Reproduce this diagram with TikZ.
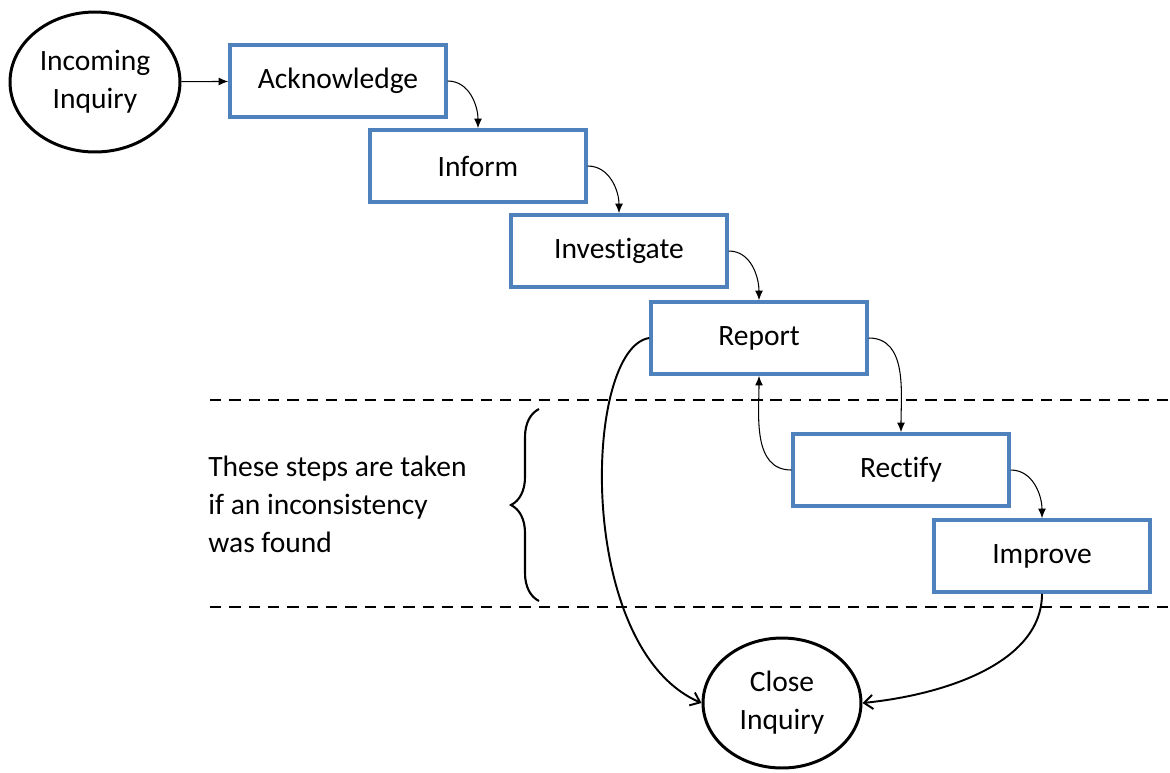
\documentclass[tikz,border=0pt]{standalone}
\usepackage{fontspec}
\setmainfont{Carlito}[Ligatures=NoCommon]
\usetikzlibrary{shapes.geometric,arrows.meta,decorations.pathreplacing}
\definecolor{boxblue}{RGB}{79,129,189}
\begin{document}
\begin{tikzpicture}[x=0.02cm,y=-0.02cm]
\tikzstyle{every node}=[font=\fontsize{16.8}{21.6}\selectfont]
\tikzstyle{stepbox}=[draw=boxblue, line width=2pt, minimum width=4.32cm, minimum height=1.44cm, inner sep=0pt]
\tikzstyle{endpoint}=[draw, ellipse, line width=1.7pt, align=center, inner sep=0pt]
\tikzstyle{flow}=[-{Latex[length=5.5pt,width=4.5pt]}, line width=0.6pt]
\tikzstyle{exit}=[-{Straight Barb[length=5pt,width=8pt]}, line width=1.1pt]
\tikzstyle{band}=[dash pattern=on 6.5pt off 4.5pt, line width=1.1pt]

\useasboundingbox (0,0) rectangle (1170,772);

% start and end
\node[endpoint, minimum width=3.4cm, minimum height=2.8cm] (incoming) at (95,82) {Incoming\\Inquiry};
\node[endpoint, minimum width=3.16cm, minimum height=2.6cm] (close) at (782,703) {Close\\Inquiry};

% steps
\node[stepbox] (ack) at (338,81) {Acknowledge};
\node[stepbox] (inform) at (478,166) {Inform};
\node[stepbox] (invest) at (619,251) {Investigate};
\node[stepbox] (report) at (759,338) {Report};
\node[stepbox] (rectify) at (901,470) {Rectify};
\node[stepbox] (improve) at (1042,556) {Improve};

% band for the optional steps
\draw[band] (210,400) -- (1170,400);
\draw[band] (210,607) -- (1170,607);
\draw[line width=1.2pt, decorate, decoration={brace, amplitude=0.56cm}] (539,601) -- (539,409);
\node[align=left, anchor=west, inner sep=0pt] (note) at (208,504) {These steps are taken\\if an inconsistency\\was found};

% connectors
\draw[flow] (incoming) -- (ack);
\draw[flow] (ack.east) to[out=0,in=90] (inform.north);
\draw[flow] (inform.east) to[out=0,in=90] (invest.north);
\draw[flow] (invest.east) to[out=0,in=90] (report.north);
\draw[flow] (report.east) to[out=0,in=90] (rectify.north);
\draw[flow] (rectify.west) to[out=180,in=-90] (report.south);
\draw[flow] (rectify.east) to[out=0,in=90] (improve.north);
\draw[exit] (report.west) .. controls +(-66,10) and +(-127,-55) .. (close.west);
\draw[exit] (improve.south) .. controls +(0,70) and +(80,-8) .. (close.east);

\end{tikzpicture}
\end{document}
